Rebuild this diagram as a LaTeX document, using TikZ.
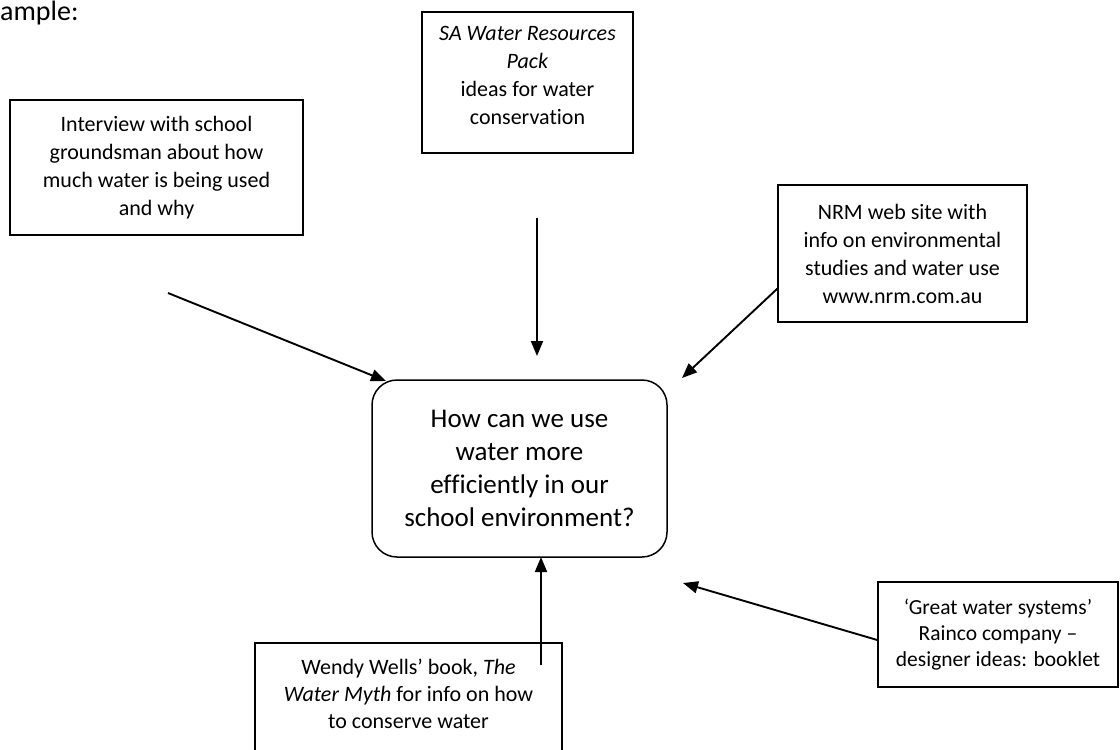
\documentclass[tikz,border=0pt]{standalone}
\usepackage{fontspec}
\setmainfont{Carlito}[Ligatures={NoCommon}]
\usetikzlibrary{arrows.meta,calc}
\begin{document}
\begin{tikzpicture}[x=1pt,y=-1pt,
  box/.style={draw, line width=1.5pt, align=center, inner sep=0pt,
    font=\fontsize{22}{28}\selectfont},
  arr/.style={line width=1.9pt, -{Triangle[length=15pt,width=12pt]}}]
\useasboundingbox (0,0) rectangle (1120,750);
\clip (0,0) rectangle (1120,750);
\node[anchor=base west, inner sep=0pt, font=\fontsize{28}{32}\selectfont] (title) at (0,20) {ample:};
\node[box, minimum width=293pt, minimum height=135pt] (interview) at (156.5,167.5)
  {Interview with school\\groundsman about how\\much water is being used\\and why};
\node[box, minimum width=211pt, minimum height=141pt, text depth=14pt] (sa) at (527.5,82.5)
  {\textit{SA Water Resources}\\\textit{Pack}\\ideas for water\\conservation};
\node[box, minimum width=249pt, minimum height=137pt] (nrm) at (902.5,253.5)
  {NRM web site with\\info on environmental\\studies and water use\\www.nrm.com.au};
\node[box, rounded corners=25pt, minimum width=295pt, minimum height=177pt,
  font=\fontsize{27}{33}\selectfont] (center) at (519.5,468.5)
  {How can we use\\water more\\efficiently in our\\school environment?};
\node[box, minimum width=307pt, minimum height=110pt, text depth=8pt,
  font=\fontsize{22}{27}\selectfont] (wendy) at (408.5,698)
  {Wendy Wells’ book, \textit{The}\\\textit{Water Myth} for info on how\\to conserve water};
\node[box, minimum width=240pt, minimum height=105pt, font=\fontsize{21.5}{26}\selectfont] (great) at (998,634.5)
  {‘Great water systems’\\Rainco company –\\designer ideas: booklet};
% connector ends
\coordinate (i1) at (168,293);
\coordinate (i2) at (386,381);
\coordinate (s1) at (537,218);
\coordinate (s2) at (537,356);
\coordinate (n1) at ($(nrm.south west)+(0,-34)$);
\coordinate (n2) at (682,378);
\coordinate (w1) at (541,665);
\coordinate (w2) at (541,557);
\coordinate (g1) at ($(great.west)+(0,5.5)$);
\coordinate (g2) at (683,583);
\draw[arr] (i1) -- (i2);
\draw[arr] (s1) -- (s2);
\draw[arr] (n1) -- (n2);
\draw[arr] (w1) -- (w2);
\draw[arr] (g1) -- (g2);
\end{tikzpicture}
\end{document}
